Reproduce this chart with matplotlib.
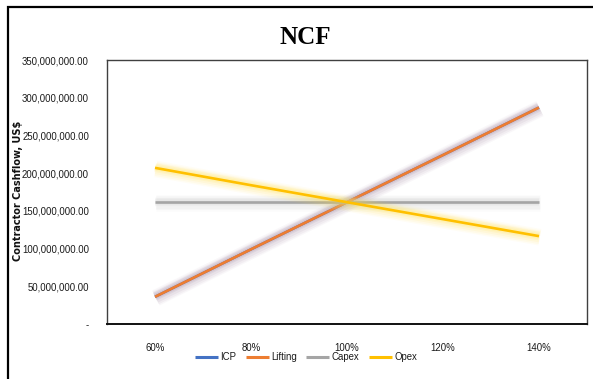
import matplotlib
matplotlib.use("Agg")
import matplotlib.pyplot as plt
import matplotlib.patheffects as pe
from matplotlib.patches import Rectangle
from matplotlib.ticker import FuncFormatter, MultipleLocator

# Sensitivity of contractor net cash flow to each parameter
categories = ["60%", "80%", "100%", "120%", "140%"]
icp = [36e6, 99e6, 161.5e6, 224e6, 287e6]
lifting = [36e6, 99e6, 161.5e6, 224e6, 287e6]
capex = [161.5e6, 161.5e6, 161.5e6, 161.5e6, 161.5e6]
opex = [207e6, 184e6, 161.5e6, 139e6, 116.5e6]

series = [
    ("ICP", icp, "#4472C4", None),
    ("Lifting", lifting, "#ED7D31", "#947494"),
    ("Capex", capex, "#A5A5A5", "#c4c4c4"),
    ("Opex", opex, "#FFC000", "#ffe040"),
]

sans = ["Liberation Sans", "DejaVu Sans"]

fig = plt.figure(figsize=(5.93, 3.79), dpi=100)
fig.patch.set_facecolor("white")

# outer chart frame
fig.patches.append(Rectangle((8 / 593, -0.05), 1.2, 1 - 7 / 379 + 0.05,
                             transform=fig.transFigure, fill=False,
                             edgecolor="black", linewidth=1.6, zorder=10))

ax = fig.add_axes([107 / 593, 55 / 379, 480 / 593, 264 / 379])
x = list(range(len(categories)))


def glow(color):
    if color is None:
        return [pe.Normal()]
    return [
        pe.Stroke(linewidth=12, foreground=color, alpha=0.05, offset=(0.6, -0.8)),
        pe.Stroke(linewidth=10, foreground=color, alpha=0.07, offset=(0.6, -0.8)),
        pe.Stroke(linewidth=8, foreground=color, alpha=0.09, offset=(0.4, -0.5)),
        pe.Stroke(linewidth=6, foreground=color, alpha=0.12),
        pe.Stroke(linewidth=4, foreground=color, alpha=0.14),
        pe.Normal(),
    ]


for name, vals, col, gcol in series:
    ax.plot(x, vals, color=col, linewidth=1.9, label=name,
            solid_capstyle="butt", path_effects=glow(gcol))

ax.set_xlim(-0.5, len(categories) - 0.5)
ax.set_ylim(0, 350e6)
ax.yaxis.set_major_locator(MultipleLocator(50e6))
ax.set_xticks(x)
ax.set_xticklabels(categories)
ax.yaxis.set_major_formatter(FuncFormatter(
    lambda v, p: "-" if abs(v) < 1 else f"{v:,.2f}"))
ax.tick_params(axis="both", length=0, labelsize=6.9, colors="#1a1a1a")
ax.tick_params(axis="y", pad=13)
ax.tick_params(axis="x", pad=14)
for lab in ax.get_xticklabels() + ax.get_yticklabels():
    lab.set_family(sans)
for side in ["left", "right", "top", "bottom"]:
    ax.spines[side].set_color("#404040")
    ax.spines[side].set_linewidth(1.0)
ax.spines["bottom"].set_color("#111111")
ax.spines["bottom"].set_linewidth(1.4)

fig.text(18 / 593, 1 - 191 / 379, "Contractor Cashflow, US$", rotation=90,
         ha="center", va="center", fontsize=7, fontweight="bold",
         family="DejaVu Sans", color="#111111")

fig.text(305 / 593, 1 - 38 / 379, "NCF", ha="center", va="center",
         fontsize=18, fontweight="bold", family="Liberation Serif")

leg = fig.legend(loc="center", bbox_to_anchor=(306 / 593, 1 - 357 / 379),
                 ncol=4, frameon=False, handlelength=2.4, handletextpad=0.25,
                 columnspacing=1.0, prop={"family": sans, "size": 6.9})
for t in leg.get_texts():
    t.set_color("#1a1a1a")
for h in leg.get_lines():
    h.set_path_effects([])
    h.set_linewidth(2.2)

fig.savefig("out.png", dpi=100, facecolor="white")
